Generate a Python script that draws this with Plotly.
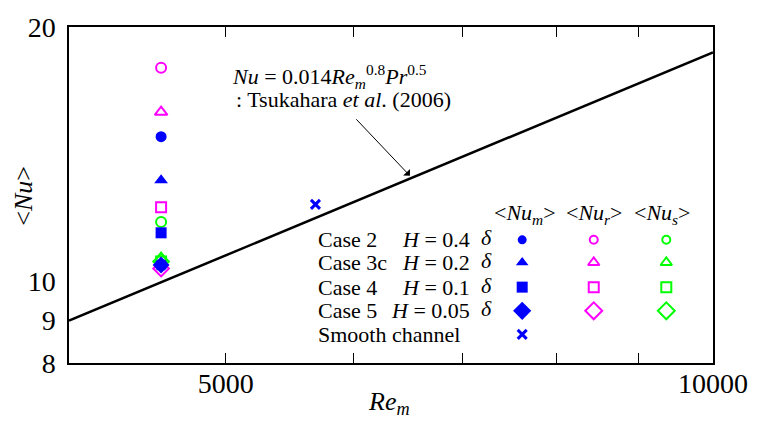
import math
import plotly.graph_objects as go

# ---------------- data ----------------
case_names = ["Case 2", "Case 3c", "Case 4", "Case 5"]
case_h = ["0.4", "0.2", "0.1", "0.05"]
re_cases = [4560, 4560, 4560, 4560]
nu_m = [14.83, 13.17, 11.41, 10.45]
nu_r = [17.9, 15.86, 12.23, 10.35]
nu_s = [11.75, 10.65, 10.55, 10.55]
smooth_re = [4560, 5680]
smooth_nu = [10.45, 12.33]
corr_re = [4000, 10000]
corr_nu = [8.98, 18.66]
x_tick_vals = [5000, 6000, 7000, 8000, 9000, 10000]
x_tick_text = ["5000", " ", " ", " ", " ", "10000"]
y_tick_vals = [8, 9, 10, 20]
y_tick_text = ["8", "9", "10", "20"]

BLUE, MAG, GRN = "#0000FF", "#FF00FF", "#00FF00"
symbols_filled = ["circle", "triangle-up", "square", "diamond"]
symbols_open = ["circle-open", "triangle-up-open", "square-open", "diamond-open"]
sizes = [10, 11, 10, 12]
FONT = "Liberation Serif, Times New Roman, DejaVu Serif, serif"

W, H = 760, 423
L, R, T, B = 69, 717, 22, 363


def px(x):
    return (x - L) / (R - L)


def py(y):
    return (B - y) / (B - T)


fig = go.Figure()

# correlation line
fig.add_trace(go.Scatter(x=corr_re, y=corr_nu, mode="lines",
                         line=dict(color="black", width=2.5), showlegend=False))

# data markers
for i in range(4):
    fig.add_trace(go.Scatter(x=[re_cases[i]], y=[nu_r[i]], mode="markers",
                             marker=dict(symbol=symbols_open[i], size=sizes[i], color=MAG,
                                         line=dict(width=2, color=MAG)), showlegend=False))
for i in range(4):
    fig.add_trace(go.Scatter(x=[re_cases[i]], y=[nu_s[i]], mode="markers",
                             marker=dict(symbol=symbols_open[i], size=sizes[i], color=GRN,
                                         line=dict(width=2, color=GRN)), showlegend=False))
for i in range(4):
    fig.add_trace(go.Scatter(x=[re_cases[i]], y=[nu_m[i]], mode="markers",
                             marker=dict(symbol=symbols_filled[i], size=sizes[i] + 1, color=BLUE),
                             showlegend=False))
fig.add_trace(go.Scatter(x=smooth_re, y=smooth_nu, mode="markers",
                         marker=dict(symbol="x-thin", size=9, color=BLUE,
                                     line=dict(width=3, color=BLUE)), showlegend=False))

# ---------- hand-built legend table (pixel grid on an overlay axis) ----------
col_x = [525, 597, 670]
row_y = [238, 261, 286, 310, 334]
leg_sizes = [8, 10, 10, 13]
for i in range(4):
    fig.add_trace(go.Scatter(x=[col_x[0]], y=[row_y[i]], xaxis="x4", yaxis="y4", mode="markers",
                             marker=dict(symbol=symbols_filled[i], size=leg_sizes[i] + 1, color=BLUE),
                             showlegend=False, hoverinfo="skip"))
    for c, col in ((1, MAG), (2, GRN)):
        fig.add_trace(go.Scatter(x=[col_x[c]], y=[row_y[i]], xaxis="x4", yaxis="y4", mode="markers",
                                 marker=dict(symbol=symbols_open[i], size=leg_sizes[i], color=col,
                                             line=dict(width=2, color=col)),
                                 showlegend=False, hoverinfo="skip"))
fig.add_trace(go.Scatter(x=[col_x[0]], y=[row_y[4]], xaxis="x4", yaxis="y4", mode="markers",
                         marker=dict(symbol="x-thin", size=9, color=BLUE, line=dict(width=3, color=BLUE)),
                         showlegend=False, hoverinfo="skip"))

ann = []
tf = dict(family=FONT, size=22, color="black")
for i in range(4):
    ann.append(dict(x=px(318), y=py(row_y[i]), xref="paper", yref="paper", text=case_names[i],
                    showarrow=False, xanchor="left", yanchor="middle", font=tf))
    ann.append(dict(x=px(474), y=py(row_y[i]), xref="paper", yref="paper",
                    text="<i>H</i> = " + case_h[i], showarrow=False, xanchor="right",
                    yanchor="middle", font=tf))
    ann.append(dict(x=px(482), y=py(row_y[i] - 2), xref="paper", yref="paper", text="<i>δ</i>",
                    showarrow=False, xanchor="left", yanchor="middle", font=tf))
ann.append(dict(x=px(318), y=py(row_y[4]), xref="paper", yref="paper", text="Smooth channel",
                showarrow=False, xanchor="left", yanchor="middle", font=tf))
for c, sub in enumerate(["m", "r", "s"]):
    ann.append(dict(x=px([528, 598, 666][c]), y=py(212), xref="paper", yref="paper",
                    text="&lt;<i>Nu<sub>%s</sub></i>&gt;" % sub, showarrow=False,
                    xanchor="center", yanchor="middle", font=tf))

# correlation label + arrow
ann.append(dict(x=px(231), y=py(72), xref="paper", yref="paper",
                text="<i>Nu</i> = 0.014<i>Re<sub>m</sub></i><sup>0.8</sup><i>Pr</i><sup>0.5</sup>",
                showarrow=False, xanchor="left", yanchor="middle", font=tf))
ann.append(dict(x=px(235), y=py(96), xref="paper", yref="paper",
                text=": Tsukahara <i>et al</i>. (2006)",
                showarrow=False, xanchor="left", yanchor="middle", font=tf))
ann.append(dict(x=px(412), y=py(173), xref="paper", yref="paper", text="",
                showarrow=True, ax=-55, ay=-58, arrowhead=1, arrowsize=1.6,
                arrowwidth=1, arrowcolor="black"))

# axis titles
ann.append(dict(x=px(391), y=py(404), xref="paper", yref="paper",
                text="<i>Re<sub>m</sub></i>", showarrow=False, xanchor="center",
                yanchor="middle", font=dict(family=FONT, size=26, color="black")))
ann.append(dict(x=px(23), y=py(193), xref="paper", yref="paper",
                text="&lt;<i>Nu</i>&gt;", showarrow=False, textangle=-90, xanchor="center",
                yanchor="middle", font=dict(family=FONT, size=26, color="black")))

xr = [math.log10(4000), math.log10(10000)]
yr = [math.log10(8), math.log10(20)]
tickfont = dict(family=FONT, size=28, color="black")

fig.update_layout(
    width=W, height=H, margin=dict(l=L, r=W - R, t=T, b=H - B),
    paper_bgcolor="white", plot_bgcolor="white", showlegend=False,
    font=dict(family=FONT),
    xaxis=dict(type="log", range=xr, tickvals=x_tick_vals, ticktext=x_tick_text,
               ticks="inside", ticklen=10, tickwidth=1, tickcolor="black",
               showline=True, linecolor="black", linewidth=1.5, mirror="ticks",
               showgrid=False, zeroline=False, tickfont=tickfont, ticklabelstandoff=-5),
    yaxis=dict(type="log", range=yr, tickvals=y_tick_vals, ticktext=y_tick_text,
               ticks="outside", ticklen=6, tickcolor="rgba(0,0,0,0)",
               showline=True, linecolor="black", linewidth=1.5, mirror=True,
               showgrid=False, zeroline=False, tickfont=tickfont),
    yaxis2=dict(type="log", range=yr, overlaying="y", side="right", tickvals=[9, 10],
                ticks="inside", ticklen=9, tickcolor="black", showticklabels=False,
                showgrid=False, zeroline=False, showline=False),
    yaxis3=dict(type="log", range=yr, overlaying="y", side="left", tickvals=[10],
                ticks="outside", ticklen=6, tickcolor="black", showticklabels=False,
                showgrid=False, zeroline=False, showline=False),
    xaxis4=dict(range=[L, R], overlaying="x", visible=False, anchor="y4"),
    yaxis4=dict(range=[B, T], overlaying="y", visible=False, anchor="x4"),
    annotations=ann,
)
fig.write_html("out.html", config={"displayModeBar": False},
               post_script="document.body.style.margin='0px';document.body.style.padding='0px';")
